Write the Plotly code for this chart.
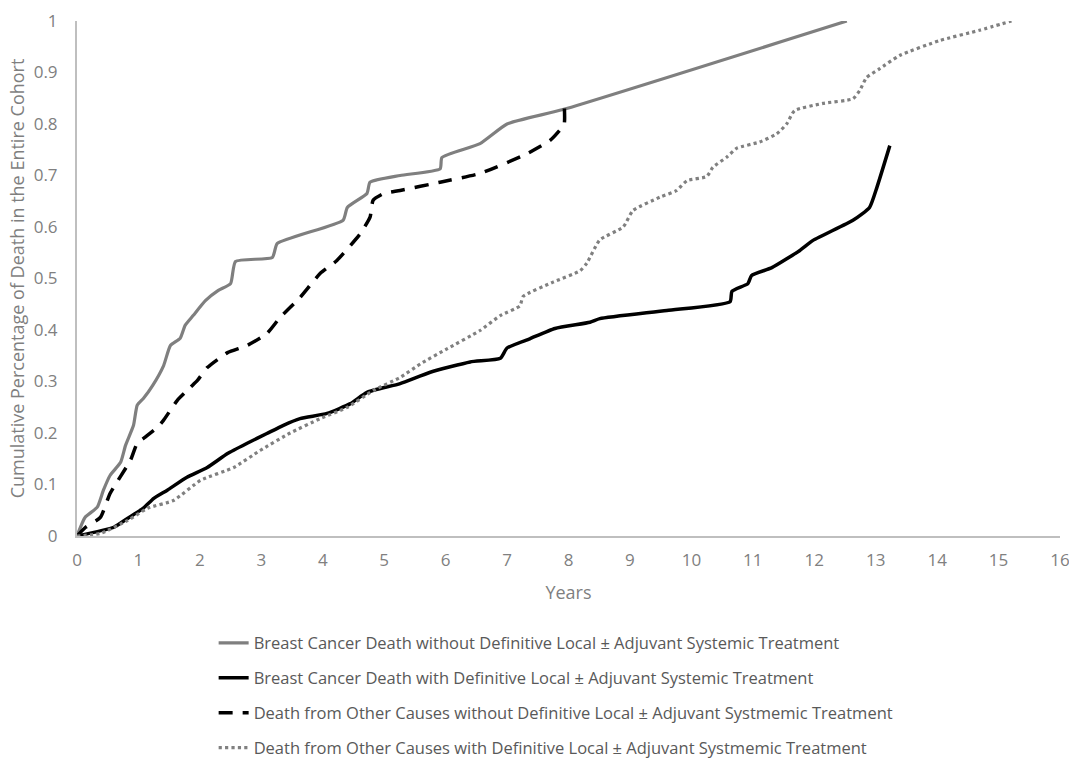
import plotly.graph_objects as go

# Breast cancer death WITHOUT definitive local treatment (gray solid)
bc_wo_x = [0, 0.13, 0.33, 0.43, 0.54, 0.71, 0.79, 0.92, 0.98, 1.08, 1.23, 1.41, 1.52, 1.68, 1.76, 1.89, 2.09, 2.30, 2.50, 2.58,
           3.18, 3.26, 4.33, 4.40, 4.72, 4.77, 5.26, 5.91, 5.94, 6.56, 7.0, 7.91, 12.53]
bc_wo_y = [0, 0.036, 0.056, 0.089, 0.118, 0.143, 0.176, 0.215, 0.254, 0.267, 0.292, 0.331, 0.37, 0.384, 0.409, 0.428, 0.457, 0.477, 0.49, 0.533,
           0.541, 0.568, 0.613, 0.638, 0.665, 0.687, 0.700, 0.713, 0.735, 0.762, 0.80, 0.828, 1.0]

# Breast cancer death WITH definitive local treatment (black solid)
bc_w_x = [0, 0.6, 0.82, 1.08, 1.25, 1.47, 1.79, 2.12, 2.45, 2.77, 3.09, 3.36, 3.63, 4.07, 4.45, 4.72, 5.26, 5.75, 6.4, 6.89, 7.0,
          7.37, 7.78, 8.35, 8.51, 9.6, 10.63, 10.66, 10.92, 10.98, 11.31, 11.76, 11.98, 12.63, 12.9, 13.02, 13.23]
bc_w_y = [0, 0.017, 0.034, 0.054, 0.073, 0.089, 0.114, 0.133, 0.16, 0.18, 0.199, 0.215, 0.228, 0.238, 0.257, 0.279, 0.296, 0.318, 0.338, 0.345, 0.365,
          0.383, 0.403, 0.415, 0.422, 0.438, 0.455, 0.475, 0.49, 0.506, 0.521, 0.554, 0.574, 0.613, 0.638, 0.677, 0.758]

# Death from other causes WITHOUT definitive local treatment (black dashed)
oc_wo_x = [0, 0.14, 0.38, 0.54, 0.87, 0.98, 1.11, 1.31, 1.41, 1.63, 1.85, 1.96, 2.12, 2.45, 2.77, 3.09, 3.31, 3.63, 3.96, 4.23,
           4.61, 4.77, 4.82, 4.99, 5.26, 5.91, 6.56, 7.32, 7.70, 7.83, 7.93, 7.93]
oc_wo_y = [0, 0.017, 0.036, 0.083, 0.147, 0.18, 0.192, 0.211, 0.225, 0.263, 0.289, 0.302, 0.327, 0.356, 0.37, 0.393, 0.425, 0.463, 0.51, 0.535,
           0.587, 0.619, 0.652, 0.665, 0.671, 0.687, 0.704, 0.742, 0.768, 0.784, 0.80, 0.84]

# Death from other causes WITH definitive local treatment (gray dotted)
oc_w_x = [0, 0.38, 0.82, 1.15, 1.57, 2.01, 2.55, 2.98, 3.47, 3.96, 4.4, 4.83, 5.26, 5.6, 6.0, 6.56, 6.89, 7.21, 7.26, 7.75, 8.19, 8.30,
          8.51, 8.89, 9.05, 9.49, 9.76, 9.93, 10.25, 10.35, 10.58, 10.74, 11.11, 11.39, 11.55, 11.68, 12.14, 12.63, 12.74,
          12.85, 13.06, 13.39, 14.04, 14.69, 15.21]
oc_w_y = [0, 0.005, 0.03, 0.054, 0.069, 0.108, 0.133, 0.166, 0.2, 0.228, 0.25, 0.283, 0.308, 0.335, 0.362, 0.399, 0.428, 0.447, 0.465, 0.493, 0.515, 0.530,
          0.575, 0.600, 0.632, 0.658, 0.671, 0.690, 0.698, 0.716, 0.736, 0.753, 0.765, 0.781, 0.8, 0.826, 0.84, 0.849, 0.865,
          0.89, 0.907, 0.933, 0.962, 0.982, 1.0]

names = [
    "Breast Cancer Death without Definitive Local ± Adjuvant Systemic Treatment",
    "Breast Cancer Death with Definitive Local ± Adjuvant Systemic Treatment",
    "Death from Other Causes without Definitive Local ± Adjuvant Systmemic Treatment",
    "Death from Other Causes with Definitive Local ± Adjuvant Systmemic Treatment",
]

x_ticks = list(range(0, 17))
y_ticks = [0, 0.1, 0.2, 0.3, 0.4, 0.5, 0.6, 0.7, 0.8, 0.9, 1]
y_tick_labels = ["0", "0.1", "0.2", "0.3", "0.4", "0.5", "0.6", "0.7", "0.8", "0.9", "1"]

fig = go.Figure()
fig.add_trace(go.Scatter(x=bc_wo_x, y=bc_wo_y, mode="lines", name=names[0], legendgroup="a",
                         line=dict(color="#7f7f7f", width=3.2, shape="spline", smoothing=0.5)))
fig.add_trace(go.Scatter(x=bc_w_x, y=bc_w_y, mode="lines", name=names[1], legendgroup="b",
                         line=dict(color="#000000", width=3.5, shape="spline", smoothing=0.5)))
fig.add_trace(go.Scatter(x=oc_wo_x, y=oc_wo_y, mode="lines", name=names[2], legendgroup="c",
                         line=dict(color="#000000", width=3.5, dash="14px,10px", shape="spline", smoothing=0.5)))
fig.add_trace(go.Scatter(x=oc_w_x, y=oc_w_y, mode="lines", name=names[3], legendgroup="d",
                         line=dict(color="#808080", width=3.2, dash="dot", shape="spline", smoothing=0.5)))

font_family = "Open Sans, Noto Sans, sans-serif"
fig.update_layout(
    width=1069, height=759,
    margin=dict(l=77, r=9, t=21, b=223, autoexpand=False),
    paper_bgcolor="white", plot_bgcolor="white",
    font=dict(family=font_family, color="#7f7f7f", size=16),
    showlegend=True,
    legend=dict(orientation="v", x=0.139, xanchor="left", y=-0.174, yanchor="top",
                font=dict(size=16.5, color="#595959"), tracegroupgap=10.5,
                bgcolor="rgba(0,0,0,0)"),
    xaxis=dict(range=[0, 16], tickvals=x_ticks, ticks="", showgrid=False, zeroline=False,
               showline=True, linecolor="#bfbfbf", linewidth=2, ticklabeloverflow="allow",
               tickfont=dict(size=17, color="#808080"), ticklabelstandoff=8,
               title=dict(text="Years", font=dict(size=18, color="#7f7f7f"), standoff=16)),
    yaxis=dict(range=[0, 1], tickvals=y_ticks, ticktext=y_tick_labels, ticks="", showgrid=False, zeroline=False,
               showline=True, linecolor="#bfbfbf", linewidth=2, ticklabeloverflow="allow",
               tickfont=dict(size=17, color="#808080"), ticklabelstandoff=14,
               title=dict(text="Cumulative Percentage of Death in the Entire Cohort",
                          font=dict(size=18, color="#7f7f7f"), standoff=4)),
)

fig.write_html("out.html", config={"displayModeBar": False},
               post_script="document.body.style.margin='0';document.body.style.overflow='hidden';")
